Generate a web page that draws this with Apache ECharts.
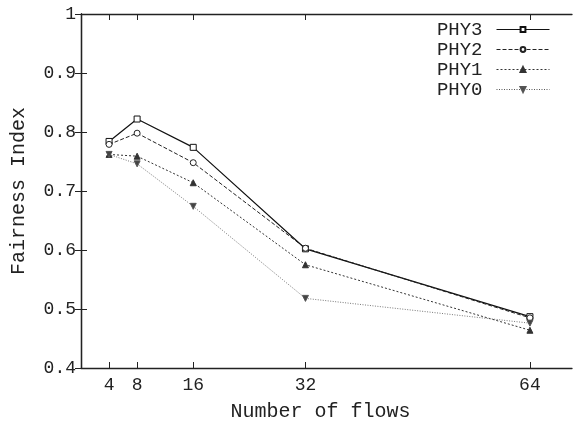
<!DOCTYPE html>
<html>
<head>
<meta charset="utf-8">
<script src="https://cdn.jsdelivr.net/npm/echarts@6/dist/echarts.min.js"></script>
<style>html,body{margin:0;padding:0;background:#fff;}#c{width:576px;height:427px;}</style>
</head>
<body>
<div id="c"></div>
<script>
const flows = [4, 8, 16, 32, 64];
const phy3 = [0.784, 0.822, 0.774, 0.602, 0.487];
const phy2 = [0.779, 0.798, 0.748, 0.603, 0.485];
const phy1 = [0.762, 0.759, 0.714, 0.575, 0.464];
const phy0 = [0.762, 0.746, 0.674, 0.518, 0.476];
const yTicks = [0.4, 0.5, 0.6, 0.7, 0.8, 0.9, 1];
const seriesNames = ['PHY3', 'PHY2', 'PHY1', 'PHY0'];

const FONT = '"Liberation Mono", "DejaVu Sans Mono", monospace';
const TXT = '#222';
function pairs(vals) { return flows.map((f, i) => [f, vals[i]]); }

const axisLineStyle = { color: '#222', width: 1.3 };
const chart = echarts.init(document.getElementById('c'), null, { renderer: 'canvas' });
const mk = (name, vals, symbol, rotate, fill, color, lineType, width) => ({
  name: name, type: 'line', data: pairs(vals),
  symbol: symbol, symbolSize: 6, symbolRotate: rotate,
  showAllSymbol: true,
  itemStyle: { color: fill, borderColor: color, borderWidth: 1 },
  lineStyle: { color: color, width: width, type: lineType },
  emphasis: { disabled: true },
  animation: false
});
chart.setOption({
  animation: false,
  grid: { left: 81, right: 4, top: 14, bottom: 58 },
  legend: {
    data: seriesNames,
    orient: 'vertical', right: 21, top: 15,
    align: 'right', itemGap: 1, itemWidth: 53, itemHeight: 6,
    lineStyle: { width: 1 },
    textStyle: { fontFamily: FONT, fontSize: 19, color: TXT, padding: [0, 9, 0, 0] },
    selectedMode: false
  },
  xAxis: [{
    type: 'value', min: 0, max: 70, position: 'bottom',
    name: 'Number of flows', nameLocation: 'middle', nameGap: 34,
    nameTextStyle: { fontFamily: FONT, fontSize: 20, color: TXT, padding: [0, 12, 0, 0] },
    axisLine: { show: true, lineStyle: axisLineStyle },
    axisTick: { show: true, inside: true, length: 6, customValues: flows, lineStyle: { color: '#222' } },
    axisLabel: { customValues: flows, fontFamily: FONT, fontSize: 18, color: TXT, margin: 8 },
    splitLine: { show: false }
  }, {
    type: 'value', min: 0, max: 70, position: 'top',
    axisLine: { show: true, lineStyle: axisLineStyle },
    axisTick: { show: true, inside: true, length: 6, customValues: flows, lineStyle: { color: '#222' } },
    axisLabel: { show: false },
    splitLine: { show: false }
  }],
  yAxis: [{
    type: 'value', min: 0.4, max: 1, interval: 0.1, position: 'left',
    name: 'Fairness Index', nameLocation: 'middle', nameGap: 52,
    nameTextStyle: { fontFamily: FONT, fontSize: 20, color: TXT },
    axisLine: { show: true, lineStyle: axisLineStyle },
    axisTick: { show: true, inside: true, length: 6, customValues: yTicks, lineStyle: { color: '#222' } },
    axisLabel: { customValues: yTicks, fontFamily: FONT, fontSize: 18, color: TXT, margin: 5,
      formatter: v => (Math.abs(v - 1) < 1e-9 ? '1' : v.toFixed(1)) },
    splitLine: { show: false }
  }, {
    type: 'value', min: 0.4, max: 1, interval: 0.1, position: 'right',
    axisLine: { show: true, lineStyle: axisLineStyle },
    axisTick: { show: true, inside: true, length: 6, customValues: yTicks, lineStyle: { color: '#222' } },
    axisLabel: { show: false },
    splitLine: { show: false }
  }],
  series: [
    mk('PHY3', phy3, 'rect', 0, '#fff', '#111', 'solid', 1.2),
    mk('PHY2', phy2, 'circle', 0, '#fff', '#222', [4, 2], 1),
    mk('PHY1', phy1, 'triangle', 0, '#333', '#333', [2, 2], 1),
    mk('PHY0', phy0, 'triangle', 180, '#444', '#555', [1, 1.5], 0.8)
  ]
});
</script>
</body>
</html>
